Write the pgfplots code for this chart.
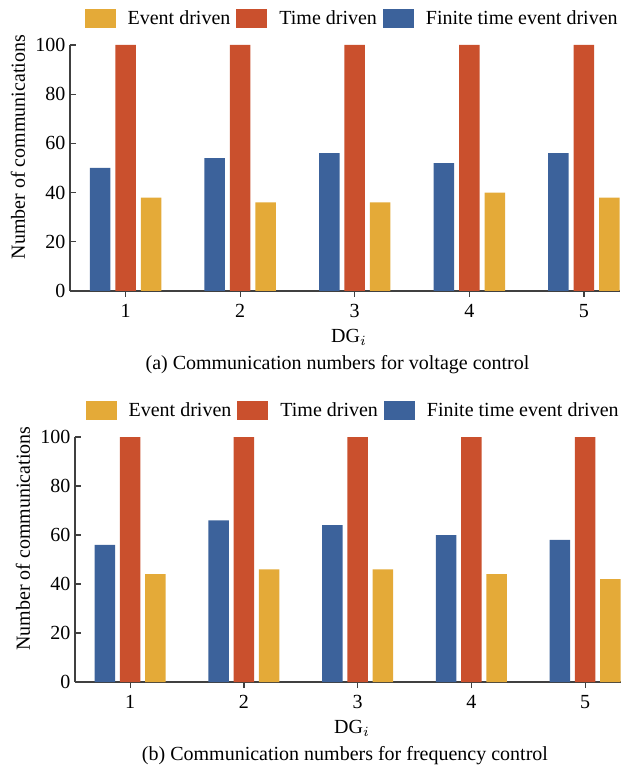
\documentclass[border=0pt]{standalone}
\usepackage{fontspec}
\setmainfont{Liberation Serif}
\usepackage{pgfplots}
\pgfplotsset{compat=1.18}
\definecolor{cyel}{RGB}{228,170,56}
\definecolor{cred}{RGB}{202,80,45}
\definecolor{cblu}{RGB}{60,98,155}
\pgfplotsset{
  commstyle/.style={
    scale only axis,
    xmin=0.515, xmax=5.315, ymin=0, ymax=100,
    axis x line*=bottom, axis y line*=left,
    axis line style={draw=black!75, line width=0.6pt},
    tick style={draw=black!75, line width=0.6pt},
    tick align=inside, major tick length=3pt,
    xtick={1,2,3,4,5}, ytick={0,20,40,60,80,100},
    minor tick num=0,
    /pgf/number format/assume math mode=true,
    tick label style={font=\fontsize{10}{12}\selectfont},
    yticklabel style={xshift=1.2pt},
    xticklabel style={yshift=0pt},
    ylabel={Number of communications},
    ylabel style={at={(axis description cs:0,0.585)}, anchor=center, yshift=26pt, font=\fontsize{10}{12}\selectfont},
    xlabel={DG$_i$},
    xlabel style={at={(axis description cs:0.5,0)}, anchor=center, yshift=-23pt, xshift=2pt, font=\fontsize{10}{12}\selectfont},
    ybar, bar width=0.179,
    clip=false,
    legend columns=-1,
    legend style={draw=none, fill=none, at={(axis description cs:1,1)}, anchor=east, yshift=13pt, xshift=1pt,
      inner sep=0pt, font=\fontsize{10}{12}\selectfont,
      /tikz/every even column/.append style={column sep=1pt},
      /tikz/every odd column/.append style={column sep=4pt}},
    legend image code/.code={\fill[##1] (0pt,-4.75pt) rectangle (15.5pt,4.75pt);},
  }
}
\begin{document}
\begin{tikzpicture}
\begin{axis}[commstyle, width=275pt, height=123pt, at={(0pt,0pt)}, anchor=south west]
\addplot[fill=cyel, draw=none, bar shift=0.222] coordinates {(1,38) (2,36) (3,36) (4,40) (5,38)};
\addlegendentry{Event driven}
\addplot[fill=cred, draw=none, bar shift=0] coordinates {(1,100) (2,100) (3,100) (4,100) (5,100)};
\addlegendentry{Time driven}
\addplot[fill=cblu, draw=none, bar shift=-0.222] coordinates {(1,50) (2,54) (3,56) (4,52) (5,56)};
\addlegendentry{Finite time event driven}
\node[font=\fontsize{10}{12}\selectfont, anchor=center] at (axis description cs:0.5,0) [yshift=-37pt, xshift=-3.75pt] {(a) Communication numbers for voltage control};
\end{axis}
\begin{axis}[commstyle, width=273pt, height=122.5pt, at={(2.5pt,-195.5pt)}, anchor=south west]
\addplot[fill=cyel, draw=none, bar shift=0.222] coordinates {(1,44) (2,46) (3,46) (4,44) (5,42)};
\addlegendentry{Event driven}
\addplot[fill=cred, draw=none, bar shift=0] coordinates {(1,100) (2,100) (3,100) (4,100) (5,100)};
\addlegendentry{Time driven}
\addplot[fill=cblu, draw=none, bar shift=-0.222] coordinates {(1,56) (2,66) (3,64) (4,60) (5,58)};
\addlegendentry{Finite time event driven}
\node[font=\fontsize{10}{12}\selectfont, anchor=center] at (axis description cs:0.5,0) [yshift=-37pt, xshift=-1.5pt] {(b) Communication numbers for frequency control};
\end{axis}
\pgfresetboundingbox
\path[use as bounding box] (-35pt,-239pt) rectangle (278.5pt,145.5pt);
\end{tikzpicture}
\end{document}
